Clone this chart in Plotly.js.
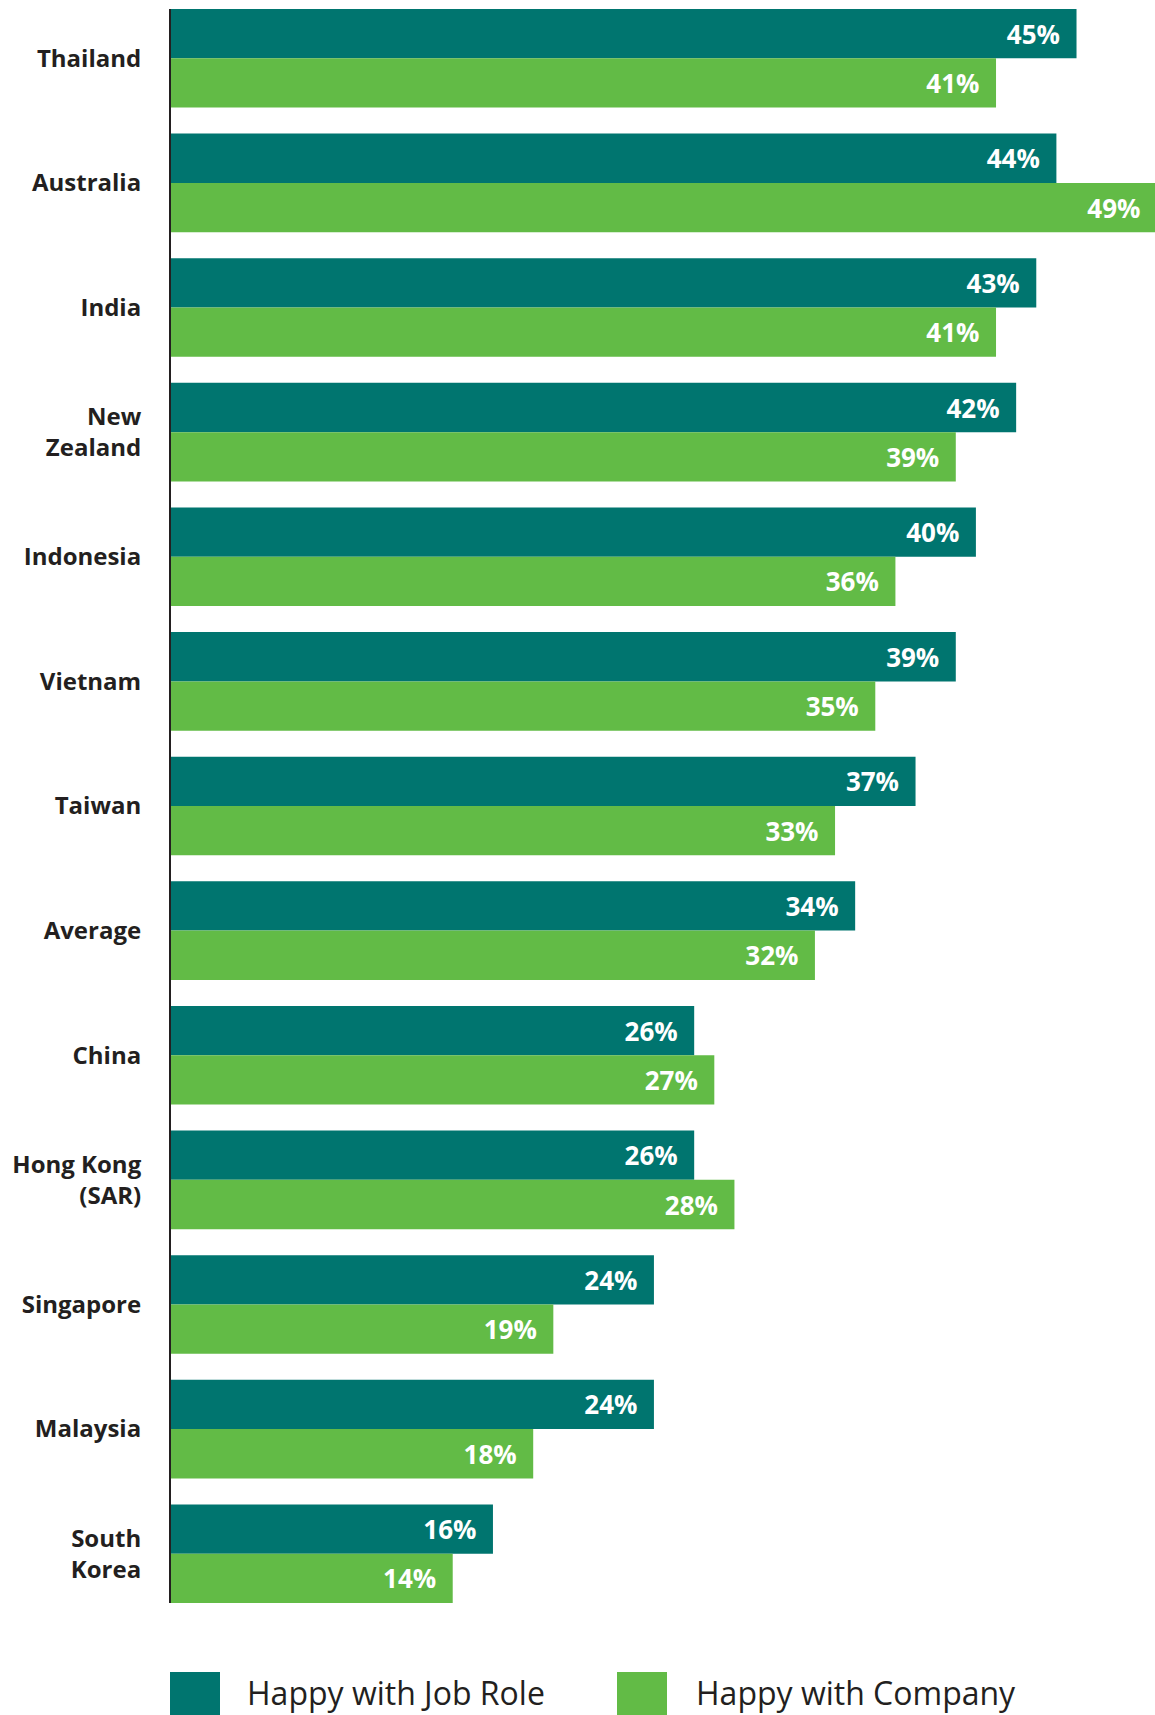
<!DOCTYPE html>
<html>
<head>
<meta charset="utf-8">
<script src="https://cdn.plot.ly/plotly-3.0.1.min.js"></script>
<style>
  html, body { margin: 0; padding: 0; background: #ffffff; overflow: hidden; }
  #chart { width: 1155px; height: 1715px; }
</style>
</head>
<body>
<div id="chart"></div>
<script>
// ---- data ----
const categories = ["Thailand", "Australia", "India", "New<br>Zealand", "Indonesia", "Vietnam", "Taiwan", "Average", "China", "Hong Kong<br>(SAR)", "Singapore", "Malaysia", "South<br>Korea"];
const seriesNames = ["Happy with Job Role", "Happy with Company"];
const jobRole = [45, 44, 43, 42, 40, 39, 37, 34, 26, 26, 24, 24, 16];
const company = [41, 49, 41, 39, 36, 35, 33, 32, 27, 28, 19, 18, 14];
const colors = ["#00756f", "#62bb46"];

const NB = "\u00a0\u00a0";
const label = v => v.map(x => x + "%" + NB);

const font = "'Open Sans', 'Noto Sans', sans-serif";

const traces = [jobRole, company].map((vals, i) => ({
  type: "bar",
  orientation: "h",
  name: seriesNames[i],
  y: categories,
  x: vals,
  marker: { color: colors[i], line: { width: 0 } },
  text: label(vals),
  textposition: "inside",
  insidetextanchor: "end",
  textfont: { family: font, size: 26, color: "#ffffff", weight: 700 },
  hoverinfo: "skip",
  showlegend: false
}));

// legend drawn as shapes + annotations (large swatches)
const L = 171, W = 984, PB = 1603, PH = 1594;
const px = x => (x - L) / W;
const py = y => (PB - y) / PH;
const swatchX = [170, 617];
const textX = [246, 695];

const shapes = seriesNames.map((n, i) => ({
  type: "rect", xref: "paper", yref: "paper",
  x0: px(swatchX[i]), x1: px(swatchX[i] + 50),
  y0: py(1672), y1: py(1730),
  fillcolor: colors[i], line: { width: 0 }, layer: "above"
}));
const annotations = seriesNames.map((n, i) => ({
  text: n, xref: "paper", yref: "paper",
  x: px(textX[i]), y: py(1715), xanchor: "left", yanchor: "bottom",
  showarrow: false, borderpad: 0,
  font: { family: font, size: 32, color: "#231f20", weight: 400 }
}));

const layout = {
  width: 1155, height: 1715,
  margin: { l: 171, r: 0, t: 9, b: 112, pad: 0 },
  paper_bgcolor: "#ffffff", plot_bgcolor: "#ffffff",
  barmode: "group", bargap: 0.209, bargroupgap: 0,
  xaxis: { range: [0, 48.9], showgrid: false, zeroline: false, showticklabels: false, showline: false, ticks: "", fixedrange: true },
  yaxis: {
    type: "category",
    range: [12.3955, -0.3955],
    showgrid: false, zeroline: false,
    showline: true, linecolor: "#231f20", linewidth: 2,
    ticks: "", ticklabelstandoff: 23,
    tickfont: { family: font, size: 24, color: "#231f20", weight: 700 },
    fixedrange: true
  },
  shapes: shapes,
  annotations: annotations,
  showlegend: false,
  font: { family: font }
};

Plotly.newPlot("chart", traces, layout, { displayModeBar: false, staticPlot: true });
</script>
</body>
</html>
